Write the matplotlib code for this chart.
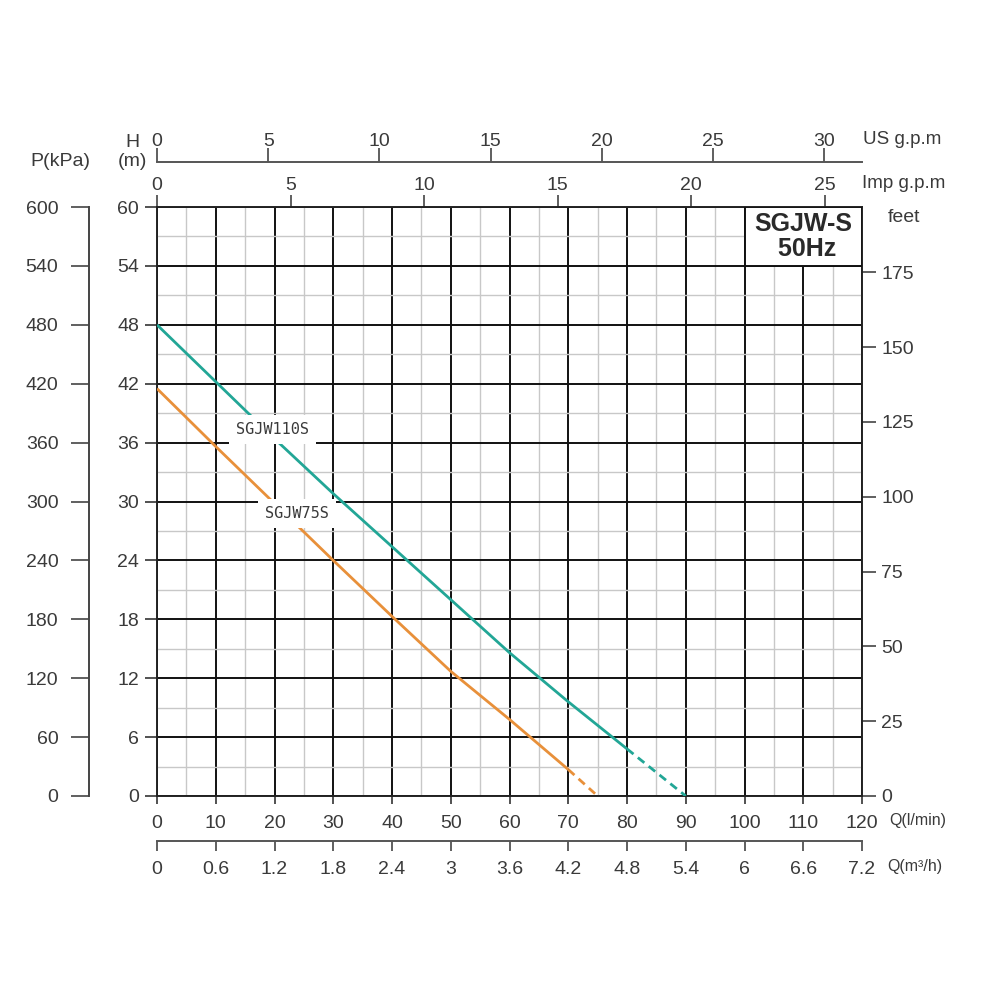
import matplotlib
matplotlib.use("Agg")
import matplotlib.pyplot as plt
from matplotlib.patches import Rectangle
from matplotlib.ticker import FixedLocator, FixedFormatter

plt.rcParams['font.family'] = ['Liberation Sans', 'DejaVu Sans']
TXT = '#3a3a3a'

# ---- data ----
# SGJW110S: flow Q (l/min) vs head H (m)
q_110_solid = [0, 10, 20, 30, 40, 50, 60, 70, 80]
h_110_solid = [48.0, 42.2, 36.4, 30.8, 25.4, 20.0, 14.6, 9.6, 4.8]
q_110_dash = [80, 90]
h_110_dash = [4.8, 0.0]

# SGJW75S
q_75_solid = [0, 10, 20, 30, 40, 50, 60, 70]
h_75_solid = [41.5, 35.6, 29.8, 24.0, 18.3, 12.7, 7.8, 2.7]
q_75_dash = [70, 75]
h_75_dash = [2.7, 0.0]

q_ticks = list(range(0, 121, 10))
h_ticks = list(range(0, 61, 6))
p_ticks = list(range(0, 601, 60))
feet_ticks = list(range(0, 176, 25))
imp_ticks = [0, 5, 10, 15, 20, 25]
us_ticks = [0, 5, 10, 15, 20, 25, 30]
m3h_ticks = [0, 0.6, 1.2, 1.8, 2.4, 3, 3.6, 4.2, 4.8, 5.4, 6, 6.6, 7.2]
m3h_labels = ['0', '0.6', '1.2', '1.8', '2.4', '3', '3.6', '4.2', '4.8', '5.4', '6', '6.6', '7.2']

TEAL = '#22a696'
ORANGE = '#e8903a'

fig = plt.figure(figsize=(10, 10), dpi=100)
ax = fig.add_axes([0.157, 0.204, 0.705, 0.589])
ax.set_xlim(0, 120)
ax.set_ylim(0, 60)
ax.set_xticks(q_ticks)
ax.set_yticks(h_ticks)
ax.set_xticks(list(range(5, 120, 10)), minor=True)
ax.set_yticks(list(range(3, 60, 6)), minor=True)
ax.grid(which='major', color='#111111', lw=1.4, zorder=1)
ax.grid(which='minor', color='#c8c8c8', lw=1.0, zorder=0)
ax.set_axisbelow(True)
for s in ax.spines.values():
    s.set_color('#222222')
    s.set_linewidth(1.4)
ax.tick_params(which='minor', length=0)
ax.tick_params(axis='x', which='major', direction='out', length=6, width=1.2,
               labelsize=14, labelcolor=TXT, pad=7.5, color='#333333')
ax.tick_params(axis='y', which='major', direction='out', length=9, width=1.2,
               labelsize=14, labelcolor=TXT, pad=4, color='#333333')

# curves
ax.plot(q_110_solid, h_110_solid, color=TEAL, lw=2.0, zorder=3, solid_capstyle='butt')
ax.plot(q_110_dash, h_110_dash, color=TEAL, lw=2.0, ls=(0, (3, 2)), zorder=3)
ax.plot(q_75_solid, h_75_solid, color=ORANGE, lw=2.0, zorder=3, solid_capstyle='butt')
ax.plot(q_75_dash, h_75_dash, color=ORANGE, lw=2.0, ls=(0, (3, 2)), zorder=3)

lab_kw = dict(family='DejaVu Sans Mono', fontsize=11, color=TXT, ha='center', va='center',
              zorder=5, bbox=dict(facecolor='white', edgecolor='none', pad=5))
ax.text(19.6, 37.3, 'SGJW110S', **lab_kw)
ax.text(23.8, 28.8, 'SGJW75S', **lab_kw)

# title box
ax.add_patch(Rectangle((100, 54), 20, 6, facecolor='white', edgecolor='#111111', lw=1.4, zorder=4))
ax.text(110, 57, 'SGJW-S\n 50Hz', fontsize=18, fontweight='bold', color='#2a2a2a',
        ha='center', va='center', linespacing=1.1, zorder=6)

# secondary axes
sec_p = ax.secondary_yaxis(-0.0965, functions=(lambda h: h * 10.0, lambda p: p / 10.0))
sec_p.yaxis.set_major_locator(FixedLocator(p_ticks))
sec_p.tick_params(direction='out', length=13, width=1.2, labelsize=14, labelcolor=TXT,
                  pad=9, color='#444444')
sec_p.spines['left'].set_color('#444444')
sec_p.spines['left'].set_linewidth(1.4)

sec_ft = ax.secondary_yaxis('right', functions=(lambda m: m * 3.28084, lambda f: f / 3.28084))
sec_ft.yaxis.set_major_locator(FixedLocator(feet_ticks))
sec_ft.tick_params(direction='out', length=10, width=1.2, labelsize=14, labelcolor=TXT,
                   pad=4, color='#444444')
sec_ft.spines['right'].set_visible(False)

sec_imp = ax.secondary_xaxis('top', functions=(lambda q: q / 4.54609, lambda g: g * 4.54609))
sec_imp.xaxis.set_major_locator(FixedLocator(imp_ticks))
sec_imp.tick_params(direction='out', length=9, width=1.2, labelsize=14, labelcolor=TXT,
                    pad=0.5, color='#444444')
sec_imp.spines['top'].set_visible(False)

sec_us = ax.secondary_xaxis(1.0764, functions=(lambda q: q / 3.78541, lambda g: g * 3.78541))
sec_us.xaxis.set_major_locator(FixedLocator(us_ticks))
sec_us.tick_params(direction='out', length=10, width=1.2, labelsize=14, labelcolor=TXT,
                   pad=-1.5, color='#444444')
sec_us.spines['top'].set_color('#555555')
sec_us.spines['top'].set_linewidth(1.4)

sec_m3 = ax.secondary_xaxis(-0.0764, functions=(lambda q: q * 0.06, lambda m: m / 0.06))
sec_m3.xaxis.set_major_locator(FixedLocator(m3h_ticks))
sec_m3.xaxis.set_major_formatter(FixedFormatter(m3h_labels))
sec_m3.tick_params(direction='out', length=7, width=1.2, labelsize=14, labelcolor=TXT,
                   pad=7.5, color='#444444')
sec_m3.spines['bottom'].set_color('#555555')
sec_m3.spines['bottom'].set_linewidth(1.4)

def ftxt(x, y, s, **kw):
    fig.text(x / 1000, 1 - y / 1000, s, color=TXT, **kw)

ftxt(60, 162, 'P(kPa)', fontsize=14, ha='center', va='center')
ftxt(132, 152, 'H\n(m)', fontsize=14, ha='center', va='center', linespacing=1.15)
ftxt(863, 140, 'US g.p.m', fontsize=13.5, ha='left', va='center')
ftxt(862, 183, 'Imp g.p.m', fontsize=13.5, ha='left', va='center')
ftxt(888, 217, 'feet', fontsize=14, ha='left', va='center')
ftxt(889, 821, 'Q(l/min)', fontsize=11.5, ha='left', va='center')
ftxt(887, 867, 'Q(m³/h)', fontsize=11.5, ha='left', va='center')

fig.savefig('out.png', dpi=100, facecolor='white')
